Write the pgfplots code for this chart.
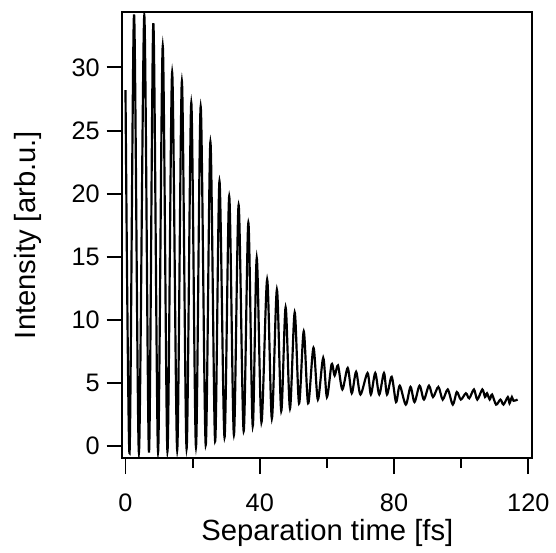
\documentclass[border=0pt]{standalone}
\usepackage{fontspec}
\setmainfont{Liberation Sans}
\usepackage{pgfplots}
\usepackage{pgfplotstable}
\pgfplotsset{compat=1.18}

% peaks and troughs
\pgfplotstableread{
t I
0 28.2
1.2 -0.55
2.55 34.2
4.0 -0.5
5.6 34.1
7.0 -0.5
8.3 33.5
9.7 -0.45
11.1 31.7
12.5 -0.4
13.9 29.6
15.4 -0.3
16.8 28.9
18.2 -0.2
19.6 27.2
21.0 -0.05
22.4 26.9
23.9 0.1
25.3 24.1
26.7 0.4
28.0 21.0
29.5 0.7
30.9 19.8
32.3 0.9
33.7 19.1
35.2 1.2
36.6 17.7
37.9 1.6
39.1 14.9
40.5 1.9
42.2 13.2
43.6 2.2
45.1 12.4
46.4 2.8
47.7 11.0
49.0 3.0
50.4 10.6
51.7 3.4
53.1 9.1
54.4 3.4
56.0 7.8
57.3 3.7
58.9 7.0
60.0 3.9
61.4 6.5
62.3 5.6
63.3 6.4
64.6 4.5
66.2 6.2
67.4 4.2
68.7 5.9
70.0 4.1
72.1 5.8
73.1 4.1
74.4 5.8
75.6 4.1
77.0 5.8
77.9 4.1
79.3 5.5
80.6 3.5
81.7 4.8
83.5 3.3
84.9 4.7
86.1 3.5
87.6 4.8
88.9 3.7
90.4 4.8
91.6 3.9
93.2 4.7
94.5 3.7
96.0 4.5
97.5 3.3
98.7 4.3
99.9 3.7
101.4 4.2
102.4 3.8
103.8 4.5
104.8 3.7
106.3 4.5
107.1 3.9
107.7 4.2
108.5 3.7
109.2 4.1
110.4 3.3
111.7 3.7
112.6 3.3
113.9 3.9
114.4 3.4
115.1 3.9
115.6 3.6
116.8 3.7
}\signal

\begin{document}
\begin{tikzpicture}
\begin{axis}[
  scale only axis,
  width=207.5pt, height=226pt,
  xmin=-0.9, xmax=121.2,
  ymin=-0.95, ymax=34.4,
  axis line style={line width=1pt},
  every tick/.style={black, line width=1pt},
  tick align=outside,
  xtick={0,40,80,120},
  minor xtick={20,60,100},
  ytick={0,5,...,30},
  major tick length=8pt,
  minor tick length=5pt,
  xtick pos=bottom, ytick pos=left,
  tick label style={font=\fontsize{12.8}{15}\selectfont},
  xticklabel style={yshift=-6.5pt},
  /pgf/number format/assume math mode=true,
  label style={font=\fontsize{14.8}{17}\selectfont},
  xlabel={Separation time [fs]},
  ylabel={Intensity [arb.u.]},
  xlabel style={at={(axis description cs:0.5,0)}, anchor=base, yshift=-41.5pt},
  ylabel style={at={(axis description cs:-0.231,0.5)}, anchor=center},
]
\addplot[black, line width=1.1pt, smooth, tension=0.5] table[x=t, y=I] {\signal};
\end{axis}
\path ([xshift=-62pt, yshift=-44pt]current axis.south west)
  rectangle ([xshift=8.5pt, yshift=6pt]current axis.north east);
\end{tikzpicture}
\end{document}
